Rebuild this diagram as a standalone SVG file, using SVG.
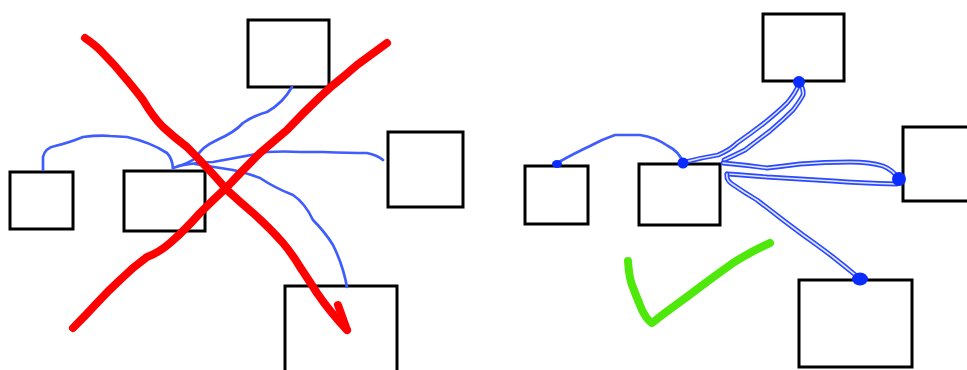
<svg xmlns="http://www.w3.org/2000/svg" width="967" height="370" viewBox="0 0 967 370">
<style>
.box{fill:none;stroke:#000;stroke-width:3}
.bl{fill:none;stroke:#3f5cff;stroke-width:2.7;stroke-linecap:round;stroke-linejoin:round}
.ol{fill:none;stroke:#2a48ff;stroke-width:4.8;stroke-linecap:round;stroke-linejoin:round}
.olin{fill:none;stroke:#dfe4ff;stroke-width:1.6;stroke-linecap:round;stroke-linejoin:round}
.red{fill:none;stroke:#ff0000;stroke-width:8;stroke-linecap:round;stroke-linejoin:round}
.green{fill:none;stroke:#4ee80a;stroke-width:8;stroke-linecap:round;stroke-linejoin:round}
.dot{fill:#0a2cff}
</style>
<rect width="967" height="370" fill="#fff"/>
<g id="left-nodes">
<g id="nA"><rect class="box" x="10" y="172" width="63" height="57"/></g>
<g id="nB"><rect class="box" x="124" y="171" width="81" height="60"/></g>
<g id="nC"><rect class="box" x="248" y="20" width="81" height="67"/></g>
<g id="nD"><rect class="box" x="388" y="132" width="75" height="75"/></g>
<g id="nE"><rect class="box" x="285" y="286" width="112" height="90"/></g>
</g>
<g id="left-connectors">
<path class="bl" d="M43,170 L43,157 Q45,148 55,146 Q68,143 83,137 Q100,135 110,136 L127,137 Q150,142 167,153 Q172,158 173,168"/>
<path class="bl" d="M173,168 Q190,163 197,157 Q200,148 217,140 Q235,132 243,123 Q255,115 267,112 Q283,103 292,87"/>
<path class="bl" d="M178,166 Q200,162 213,162 Q240,157 267,152 Q285,151 300,152 L323,152 Q350,153 367,153 Q377,155 383,160"/>
<path class="bl" d="M195,164 Q220,168 233,170 Q250,174 260,178 Q275,188 293,195 Q305,203 313,220 Q325,232 333,245 Q343,265 347,287"/>
</g>
<g id="cross">
<path class="red" d="M85,38 Q95,45 100,50 Q115,65 127,80 Q137,92 143,100 Q153,117 163,127 Q175,138 187,147 Q210,170 227,190 Q240,202 253,213 Q270,228 283,243 Q293,255 300,267 Q310,282 317,293 Q330,312 347,330"/>
<path class="red" d="M338,305 L347,330"/>
<path class="red" d="M387,43 Q368,57 357,65 Q350,71 343,77 Q330,87 320,97 Q303,113 287,130 Q273,142 260,153 Q243,170 227,187 Q213,200 200,213 Q185,230 170,243 Q160,252 147,257 Q133,267 120,280 Q108,291 97,303 Q85,316 73,328"/>
</g>
<g id="right-nodes">
<g id="nF"><rect class="box" x="525" y="166" width="63" height="58"/></g>
<g id="nG"><rect class="box" x="639" y="164" width="81" height="61"/></g>
<g id="nH"><rect class="box" x="763" y="14" width="81" height="67"/></g>
<g id="nI"><rect class="box" x="903" y="127" width="70" height="74"/></g>
<g id="nJ"><rect class="box" x="799" y="280" width="113" height="87"/></g>
</g>
<g id="right-connectors">
<path class="bl" stroke-width="3" d="M557,163 Q575,153 590,146 Q603,139 615,135 L640,135 Q655,137 668,146 Q680,152 683,163"/>
<path class="ol" d="M685,162 Q700,158 718,155 Q730,150 737,143 Q750,134 763,124 Q778,112 787,103 Q795,94 799,84"/>
<path class="olin" d="M685,162 Q700,158 718,155 Q730,150 737,143 Q750,134 763,124 Q778,112 787,103 Q795,94 799,84"/>
<path class="ol" d="M724,160 Q735,155 745,150 Q758,140 770,131 Q783,120 793,110 Q800,101 803,95 Q804,89 800,84"/>
<path class="olin" d="M724,160 Q735,155 745,150 Q758,140 770,131 Q783,120 793,110 Q800,101 803,95 Q804,89 800,84"/>
<path class="ol" d="M723,163 Q745,165 767,168 Q785,166 800,164 Q825,162 850,162 Q870,162 883,166 Q893,170 899,179"/>
<path class="olin" d="M723,163 Q745,165 767,168 Q785,166 800,164 Q825,162 850,162 Q870,162 883,166 Q893,170 899,179"/>
<path class="ol" d="M727,174 Q745,175 767,177 Q800,179 833,181 Q860,183 897,184"/>
<path class="olin" d="M727,174 Q745,175 767,177 Q800,179 833,181 Q860,183 897,184"/>
<path class="ol" d="M727,174 Q726,180 732,184 Q745,193 757,200 Q770,210 783,220 Q795,229 803,235 Q820,247 833,257 Q847,268 859,278"/>
<path class="olin" d="M727,174 Q726,180 732,184 Q745,193 757,200 Q770,210 783,220 Q795,229 803,235 Q820,247 833,257 Q847,268 859,278"/>
<ellipse class="dot" cx="557" cy="164" rx="5" ry="4"/>
<ellipse class="dot" cx="683" cy="163" rx="5.5" ry="5.5"/>
<ellipse class="dot" cx="799" cy="82" rx="6" ry="6"/>
<ellipse class="dot" cx="899" cy="179" rx="7" ry="7"/>
<ellipse class="dot" cx="860" cy="279" rx="8" ry="6.5"/>
</g>
<g id="check">
<path class="green" d="M628,261 Q629,277 632,285 Q637,298 642,310 Q647,320 652,323 Q662,315 673,307 Q687,297 700,287 Q716,275 733,263 Q750,252 770,243"/>
</g>
</svg>
